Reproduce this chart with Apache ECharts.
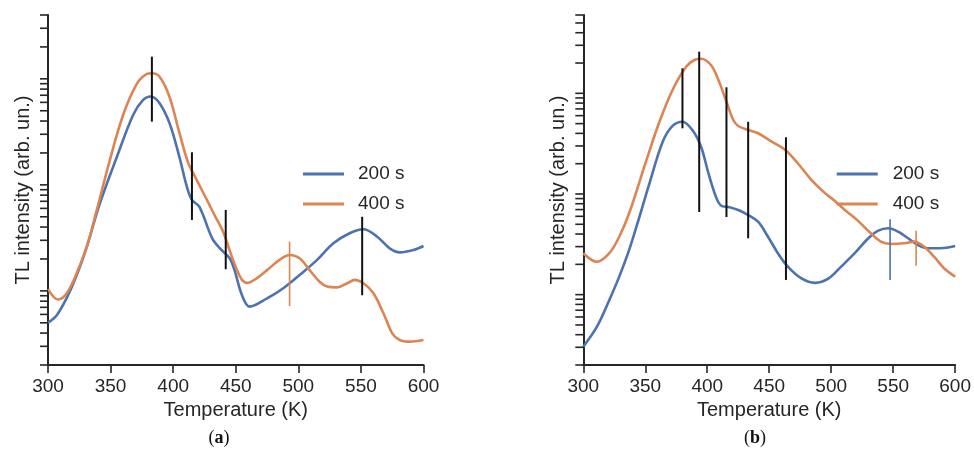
<!DOCTYPE html>
<html><head><meta charset="utf-8">
<script src="https://cdn.jsdelivr.net/npm/echarts@6/dist/echarts.min.js"></script>
<style>html,body{margin:0;padding:0;background:#fff}#c{width:974px;height:450px}</style>
</head><body><div id="c"></div>
<script>
// ---------- data (arbitrary intensity units) ----------
const xTicks = [300, 350, 400, 450, 500, 550, 600];
const xMin = 300, xMax = 600;

// panel (a)
const tempsA200 = [300, 307, 315, 323, 331, 341, 355, 368, 376, 382, 389, 397, 405, 411, 415, 421, 431, 437, 445, 449, 455, 461, 475, 488, 501, 515, 528, 541, 552, 563, 573, 581, 592, 600];
const valsA200  = [5.0, 5.9, 8.6, 14.1, 26, 64.6, 183, 456, 632, 682, 593, 384, 183, 95.5, 72, 62, 31.6, 25.4, 20.4, 15.7, 9.1, 7.1, 8.5, 10.6, 14.1, 19.6, 28.1, 35, 38.1, 32.4, 25.2, 23.1, 24.3, 26.5];
const tempsA400 = [300, 308, 315, 323, 331, 339, 349, 360, 371, 379, 383, 389, 397, 405, 412, 418, 427, 433, 440, 445, 451, 455, 459, 467, 475, 485, 493, 501, 509, 517, 523, 531, 539, 545, 552, 560, 568, 575, 581, 589, 600];
const valsA400  = [10.4, 8.3, 9.5, 14.8, 26.1, 58, 164, 456, 895, 1112, 1130, 1050, 679, 309, 161, 116, 72, 52, 36, 24.3, 15.7, 12.7, 11.9, 13.2, 15.7, 19.6, 21.8, 20.3, 15.7, 12.2, 11, 10.8, 11.8, 12.7, 11.8, 9.5, 6.15, 3.98, 3.44, 3.32, 3.44];
const markTempsA = [383, 415, 442, 493, 551];
const markLowA   = [395, 46.7, 16, 7.2, 9.1];
const markHighA  = [1620, 203, 58, 29.1, 50];
const markKindA  = ['both', 'both', 'both', '400 s', 'both'];
const yMinA = 2, yMaxA = 4000;
const yTicksA = [2,3,4,5,6,7,8,9,10,20,30,40,50,60,70,80,90,100,200,300,400,500,600,700,800,900,1000,2000,3000,4000];

// panel (b)
const tempsB200 = [300, 311, 321, 329, 337, 345, 353, 364, 372, 380, 388, 395, 401, 407, 411, 418, 425, 433, 441, 449, 457, 465, 476, 487, 498, 508, 519, 530, 538, 546, 554, 562, 570, 578, 588, 600];
const valsB200  = [3.04, 4.8, 8.84, 15.1, 27.8, 57.7, 123, 328, 474, 522, 432, 295, 160, 94, 77, 74, 69.3, 61.8, 53, 37.6, 25.8, 19, 14.5, 13.1, 14.5, 19, 25.8, 36.3, 43.2, 45.6, 42.2, 36.3, 31.1, 28.9, 28.9, 30.4];
const tempsB400 = [300, 311, 321, 329, 337, 351, 361, 372, 383, 391, 395, 403, 409, 415, 421, 425, 433, 441, 452, 463, 473, 484, 495, 503, 511, 521, 532, 540, 548, 559, 567, 575, 583, 591, 600];
const valsB400  = [25.8, 21.2, 25.8, 37.6, 64.3, 218, 504, 1079, 1838, 2178, 2208, 1910, 1356, 858, 543, 474, 432, 401, 331, 274, 202, 138, 102, 85.2, 69.3, 55, 40.7, 33.6, 31.9, 32.4, 33.6, 29.9, 23.8, 18.3, 15.1];
const markTempsB = [380, 393.5, 415.5, 433, 463.5, 547.5, 568.5];
const markLowB   = [449, 66.2, 59, 36.3, 14.0, 14.0, 19.4];
const markHighB  = [1773, 2592, 1148, 522, 366, 56, 43.2];
const markKindB  = ['both', 'both', 'both', 'both', 'both', '200 s', '400 s'];
const yMinB = 2, yMaxB = 6000;
const yTicksB = [2,3,4,5,6,7,8,9,10,20,30,40,50,60,70,80,90,100,200,300,400,500,600,700,800,900,1000,2000,3000,4000,5000,6000];

const seriesNames = ['200 s', '400 s'];

// ---------- styling ----------
const FONT = '"Liberation Sans", Arial, sans-serif';
const TXT = '#262626';
const AX = '#262626';
const BLUE = '#4c72b0', ORANGE = '#dd8452';

function pairs(t, v) { return t.map((x, i) => [x, v[i]]); }

function lineSeries(g, name, t, v, color) {
  return { type: 'line', name: name, xAxisIndex: g, yAxisIndex: g, data: pairs(t, v),
    showSymbol: false, symbol: 'none', smooth: 0.35, z: 3, silent: true,
    lineStyle: { color: color, width: 2.6 }, itemStyle: { color: color } };
}

function tickSeries(g, ticks) {
  return { type: 'custom', xAxisIndex: g, yAxisIndex: g, silent: true, clip: false, z: 4,
    data: ticks.map(v => [xMin, v]),
    renderItem: function (params, api) {
      const p = api.coord([api.value(0), api.value(1)]);
      return { type: 'line', shape: { x1: p[0] - 8, y1: p[1], x2: p[0], y2: p[1] },
        style: { stroke: AX, lineWidth: 1.6 } };
    } };
}

function markerSeries(g, temps, lows, highs, kinds) {
  return { type: 'custom', xAxisIndex: g, yAxisIndex: g, silent: true, clip: false, z: 6,
    data: temps.map((t, i) => [t, lows[i], highs[i], i]),
    encode: { x: 0, y: [1, 2] },
    renderItem: function (params, api) {
      const a = api.coord([api.value(0), api.value(1)]);
      const b = api.coord([api.value(0), api.value(2)]);
      const k = kinds[api.value(3)];
      const col = k === '200 s' ? BLUE : (k === '400 s' ? ORANGE : '#111');
      return { type: 'line', shape: { x1: a[0], y1: a[1], x2: b[0], y2: b[1] },
        style: { stroke: col, lineWidth: k === 'both' ? 2 : 1.6 } };
    } };
}

function xAxis(g) {
  return { type: 'value', gridIndex: g, min: xMin, max: xMax, interval: xTicks[1] - xTicks[0],
    axisLine: { onZero: false, lineStyle: { color: AX, width: 2 } },
    axisTick: { length: 8, lineStyle: { color: AX, width: 1.6 } },
    axisLabel: { fontSize: 19, color: TXT, fontFamily: FONT, margin: 12 },
    splitLine: { show: false },
    name: 'Temperature (K)', nameLocation: 'middle', nameGap: 33,
    nameTextStyle: { fontSize: 20, color: TXT, fontFamily: FONT } };
}
function yAxis(g, mn, mx) {
  return { type: 'log', logBase: 10, gridIndex: g, min: mn, max: mx,
    axisLine: { show: true, onZero: false, lineStyle: { color: AX, width: 2 } },
    axisTick: { show: false }, axisLabel: { show: false }, splitLine: { show: false },
    minorTick: { show: false },
    name: 'TL intensity (arb. un.)', nameLocation: 'middle', nameGap: 15,
    nameTextStyle: { fontSize: 20, color: TXT, fontFamily: FONT } };
}
function legend(left, pad) {
  return { left: left, top: 164, orient: 'vertical', padding: 0, data: seriesNames,
    icon: 'rect', itemWidth: 41, itemHeight: 3, itemGap: 10, selectedMode: false,
    textStyle: { fontSize: 19, fontFamily: FONT, color: TXT, lineHeight: 20, padding: [0, 0, 0, pad] } };
}

const chart = echarts.init(document.getElementById('c'));
chart.setOption({
  animation: false,
  backgroundColor: '#fff',
  grid: [
    { left: 48, right: 974 - 423.5, top: 15, bottom: 85 },
    { left: 583.3, right: 974 - 957.7, top: 15, bottom: 85 }
  ],
  xAxis: [xAxis(0), xAxis(1)],
  yAxis: [yAxis(0, yMinA, yMaxA), yAxis(1, yMinB, yMaxB)],
  legend: [legend(303, 9), legend(836.7, 10)],
  series: [
    lineSeries(0, seriesNames[0], tempsA200, valsA200, BLUE),
    lineSeries(0, seriesNames[1], tempsA400, valsA400, ORANGE),
    markerSeries(0, markTempsA, markLowA, markHighA, markKindA),
    tickSeries(0, yTicksA),
    lineSeries(1, seriesNames[0], tempsB200, valsB200, BLUE),
    lineSeries(1, seriesNames[1], tempsB400, valsB400, ORANGE),
    markerSeries(1, markTempsB, markLowB, markHighB, markKindB),
    tickSeries(1, yTicksB)
  ],
  graphic: [
    { type: 'text', x: 219, y: 438, silent: true,
      style: { text: '{p|(}{b|a}{p|)}', align: 'center', verticalAlign: 'middle',
        rich: { p: { fontFamily: '"Liberation Serif", serif', fontSize: 18, fill: '#111' },
                b: { fontFamily: '"Liberation Serif", serif', fontSize: 18, fontWeight: 'bold', fill: '#111' } } } },
    { type: 'text', x: 755, y: 438, silent: true,
      style: { text: '{p|(}{b|b}{p|)}', align: 'center', verticalAlign: 'middle',
        rich: { p: { fontFamily: '"Liberation Serif", serif', fontSize: 18, fill: '#111' },
                b: { fontFamily: '"Liberation Serif", serif', fontSize: 18, fontWeight: 'bold', fill: '#111' } } } }
  ]
});
</script>
</body></html>
